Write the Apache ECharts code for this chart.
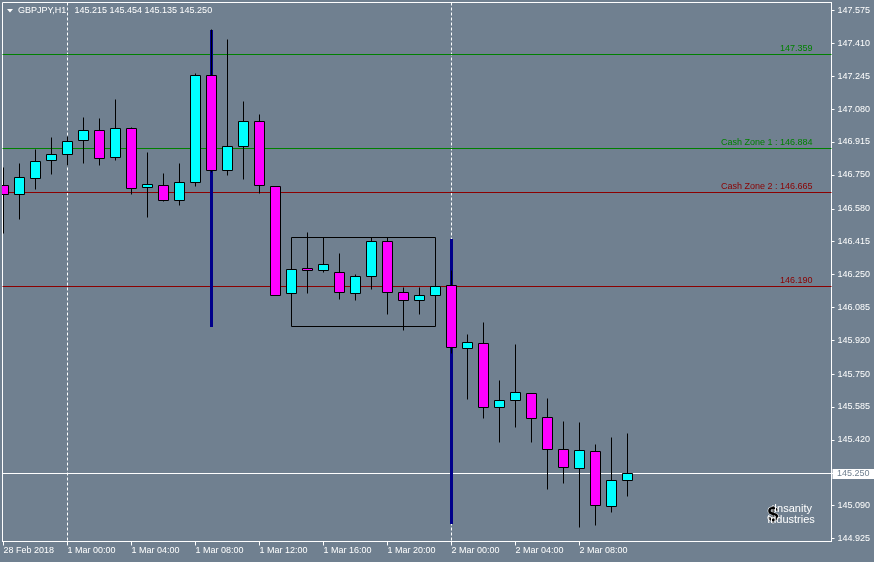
<!DOCTYPE html>
<html><head><meta charset="utf-8">
<script src="https://cdn.jsdelivr.net/npm/echarts@6/dist/echarts.min.js"></script>
<style>html,body{margin:0;padding:0;background:#708090;}#c{width:874px;height:562px;}</style>
</head><body><div id="c"></div>
<script>
// ---------- data ----------
const symbolName = 'GBPJPY,H1';
const candleIndex = [0,1,2,3,4,5,6,7,8,9,10,11,12,13,14,15,16,17,18,19,20,21,22,23,24,25,26,27,28,29,30,31,32,33,34,35,36,37,38,39];
const opens  = [146.697,146.650,146.730,146.821,146.851,146.921,146.971,146.836,146.981,146.685,146.695,146.620,146.710,147.247,146.770,146.891,147.016,146.690,146.153,146.280,146.269,146.259,146.153,146.239,146.414,146.158,146.118,146.143,146.193,145.877,145.902,145.581,145.616,145.651,145.531,145.370,145.275,145.360,145.084,145.215];
const highs  = [146.789,146.807,146.877,146.938,146.943,147.038,147.033,147.128,146.986,146.862,146.755,146.807,147.259,147.478,147.429,147.118,147.053,146.692,146.290,146.461,146.434,146.355,146.249,146.434,146.434,146.186,146.186,146.200,146.270,145.949,146.009,145.718,145.899,145.653,145.626,145.512,145.507,145.397,145.432,145.454];
const lows   = [146.454,146.526,146.677,146.752,146.799,146.809,146.799,146.824,146.653,146.538,146.617,146.598,146.693,146.760,146.748,146.727,146.658,146.145,146.140,146.156,146.262,146.126,146.121,146.173,146.048,145.968,146.051,146.130,145.852,145.624,145.529,145.408,145.484,145.408,145.173,145.203,144.979,144.992,145.057,145.135];
const closes = [146.650,146.737,146.817,146.851,146.916,146.971,146.831,146.981,146.680,146.700,146.620,146.710,147.247,146.770,146.891,147.016,146.695,146.147,146.274,146.269,146.299,146.158,146.239,146.414,146.158,146.118,146.143,146.188,145.882,145.907,145.581,145.616,145.656,145.526,145.370,145.280,145.365,145.089,145.215,145.250];

const xTickIdx    = [0,4,8,12,16,20,24,28,32,36];
const xTickLabels = ['28 Feb 2018','1 Mar 00:00','1 Mar 04:00','1 Mar 08:00','1 Mar 12:00','1 Mar 16:00','1 Mar 20:00','2 Mar 00:00','2 Mar 04:00','2 Mar 08:00'];
const yTickValues = [147.575,147.410,147.245,147.080,146.915,146.750,146.580,146.415,146.250,146.085,145.920,145.750,145.585,145.420,145.250,145.090,144.925];

const daySeparators = [4, 28];
const levelValues = [147.359, 146.884, 146.665, 146.190];
const levelTexts  = ['147.359', 'Cash Zone 1 : 146.884', 'Cash Zone 2 : 146.665', '146.190'];
const blueLineIdx    = [13, 28];
const blueLineTop    = [147.476, 146.429];
const blueLineBottom = [145.986, 144.999];
const boxCorners = [[18, 146.434, 27, 145.987]];

// ---------- styles ----------
const BG = '#708090';
const FONT = 'Liberation Sans';
const FONT_CSS = '9px "Liberation Sans"';
const levelColors = ['#008000', '#008000', '#8B0000', '#8B0000'];
const Y_MIN = 144.9099, Y_MAX = 147.6152;
const last = closes.length - 1;
const currentPrice = closes[last];

const candleData = candleIndex.map((i, k) => [i, opens[k], closes[k], lows[k], highs[k]]);
const blueData = blueLineIdx.map((i, k) => [i, blueLineTop[k], blueLineBottom[k]]);
const levelData = levelValues.map(v => [0, v]);
const sepData = daySeparators.map(i => [i, Y_MIN]);

function px(v) { return Math.floor(v) + 0.5; }

function renderCandle(params, api) {
  const i = api.value(0), o = api.value(1), c = api.value(2), l = api.value(3), h = api.value(4);
  const pO = api.coord([i, o]), pC = api.coord([i, c]), pH = api.coord([i, h]), pL = api.coord([i, l]);
  const x = px(pO[0]);
  const half = Math.round(api.size([1, 0])[0] * 0.3125);
  let top = px(Math.min(pO[1], pC[1]));
  let bot = px(Math.max(pO[1], pC[1]));
  if (bot - top < 2) bot = top + 2;
  const bull = c >= o;
  return {
    type: 'group',
    children: [
      { type: 'line', shape: { x1: x, y1: px(pH[1]), x2: x, y2: px(pL[1]) }, style: { stroke: '#000', lineWidth: 1 } },
      { type: 'rect', shape: { x: x - half, y: top, width: half * 2, height: bot - top },
        style: { fill: bull ? '#00FFFF' : '#FF00FF', stroke: '#000', lineWidth: 1 } }
    ]
  };
}

function renderBlue(params, api) {
  const i = api.value(0);
  const pT = api.coord([i, api.value(1)]), pB = api.coord([i, api.value(2)]);
  const x = px(pT[0]);
  return { type: 'line', shape: { x1: x, y1: Math.round(pT[1]), x2: x, y2: Math.round(pB[1]) },
    style: { stroke: '#00008B', lineWidth: 3 } };
}

function renderLevel(params, api) {
  const cs = params.coordSys;
  const k = params.dataIndex;
  const y = Math.round(api.coord([api.value(0), api.value(1)])[1]) + 0.5;
  const color = levelColors[k];
  return { type: 'group', children: [
    { type: 'line', shape: { x1: cs.x, y1: y, x2: cs.x + cs.width, y2: y }, style: { stroke: color, lineWidth: 1 } },
    { type: 'text', x: cs.x + cs.width - 19, y: y - 1.5,
      style: { text: levelTexts[k], fill: color, font: FONT_CSS, align: 'right', verticalAlign: 'bottom' } }
  ] };
}

function renderSep(params, api) {
  const cs = params.coordSys;
  const x = px(api.coord([api.value(0), api.value(1)])[0]);
  return { type: 'line', shape: { x1: x, y1: cs.y, x2: x, y2: cs.y + cs.height },
    style: { stroke: '#FFFFFF', lineWidth: 1, lineDash: [3, 2] } };
}

function renderPrice(params, api) {
  const cs = params.coordSys;
  const y = px(api.coord([api.value(0), api.value(1)])[1]);
  const right = cs.x + cs.width;
  return { type: 'group', children: [
    { type: 'line', shape: { x1: cs.x, y1: y, x2: right, y2: y }, style: { stroke: '#FFFFFF', lineWidth: 1 } },
    { type: 'rect', shape: { x: right + 1, y: y - 4.5, width: 874 - right, height: 10 }, style: { fill: '#FFFFFF' } },
    { type: 'text', x: right + 5.5, y: y + 0.5,
      style: { text: api.value(1).toFixed(3), fill: BG, font: FONT_CSS, align: 'left', verticalAlign: 'middle' } }
  ] };
}

function renderBox(params, api) {
  const a = api.coord([api.value(0), api.value(1)]);
  const b = api.coord([api.value(2), api.value(3)]);
  const x1 = px(a[0]), y1 = px(a[1]), x2 = px(b[0]), y2 = px(b[1]);
  return { type: 'rect', shape: { x: x1, y: y1, width: x2 - x1, height: y2 - y1 },
    style: { fill: 'none', stroke: '#000000', lineWidth: 1 } };
}

const chart = echarts.init(document.getElementById('c'), null, { renderer: 'canvas' });
chart.setOption({
  animation: false,
  backgroundColor: BG,
  textStyle: { fontFamily: FONT },
  grid: { left: 2.5, top: 2.5, right: 42.5, bottom: 20.5, show: true, borderColor: '#FFFFFF', borderWidth: 1, backgroundColor: 'transparent' },
  xAxis: {
    type: 'value', min: -0.0625, max: 51.75,
    splitLine: { show: false },
    axisLine: { show: true, onZero: false, lineStyle: { color: '#FFFFFF', width: 1 } },
    axisTick: { show: true, customValues: xTickIdx, length: 4, lineStyle: { color: '#FFFFFF' } },
    axisLabel: { show: true, customValues: xTickIdx, color: '#FFFFFF', fontFamily: FONT, fontSize: 9, align: 'left', margin: 5,
      formatter: v => { const k = xTickIdx.indexOf(Math.round(v)); return k >= 0 ? xTickLabels[k] : ''; } }
  },
  yAxis: {
    type: 'value', position: 'right', min: Y_MIN, max: Y_MAX,
    splitLine: { show: false },
    axisLine: { show: true, onZero: false, lineStyle: { color: '#FFFFFF', width: 1 } },
    axisTick: { show: true, customValues: yTickValues, length: 3, lineStyle: { color: '#FFFFFF' } },
    axisLabel: { show: true, customValues: yTickValues.filter(v => v !== currentPrice), color: '#FFFFFF', fontFamily: FONT, fontSize: 9, margin: 6,
      formatter: v => v.toFixed(3) }
  },
  graphic: [
    { type: 'polygon', shape: { points: [[7, 9], [13, 9], [10, 12.5]] }, style: { fill: '#FFFFFF' } },
    { type: 'text', x: 18, y: 10.5, style: { text: symbolName, fill: '#FFFFFF', font: FONT_CSS, verticalAlign: 'middle' } },
    { type: 'text', x: 74.5, y: 10.5, style: { text: [opens[last], highs[last], lows[last], closes[last]].map(v => v.toFixed(3)).join(' '),
      fill: '#FFFFFF', font: FONT_CSS, verticalAlign: 'middle' } },
    { type: 'text', x: 773, y: 515, z: 10, style: { text: '$', fill: '#000000', stroke: '#FFFFFF', lineWidth: 1,
      font: 'bold 20px "Liberation Sans"', align: 'center', verticalAlign: 'middle' } },
    { type: 'text', x: 793, y: 508.5, z: 11, style: { text: 'Insanity', fill: '#FFFFFF', font: '11px "Liberation Sans"',
      align: 'center', verticalAlign: 'middle', shadowColor: '#000', shadowOffsetX: 1, shadowOffsetY: 1, shadowBlur: 0 } },
    { type: 'text', x: 791, y: 519.5, z: 11, style: { text: 'Industries', fill: '#FFFFFF', font: '11px "Liberation Sans"',
      align: 'center', verticalAlign: 'middle', shadowColor: '#000', shadowOffsetX: 1, shadowOffsetY: 1, shadowBlur: 0 } }
  ],
  series: [
    { type: 'custom', z: 1, silent: true, clip: false, renderItem: renderSep, encode: { x: 0, y: 1 }, data: sepData },
    { type: 'custom', z: 1, silent: true, clip: false, renderItem: renderLevel, encode: { x: 0, y: 1 }, data: levelData },
    { type: 'custom', z: 1, silent: true, clip: false, renderItem: renderPrice, encode: { x: 0, y: 1 }, data: [[0, currentPrice]] },
    { type: 'custom', z: 2, silent: true, clip: false, renderItem: renderBox, encode: { x: [0, 2], y: [1, 3] }, data: boxCorners },
    { type: 'custom', z: 3, silent: true, clip: true, renderItem: renderBlue, encode: { x: 0, y: [1, 2] }, data: blueData },
    { type: 'custom', z: 4, silent: true, clip: true, renderItem: renderCandle, encode: { x: 0, y: [1, 2, 3, 4] }, data: candleData }
  ]
});
</script></body></html>
